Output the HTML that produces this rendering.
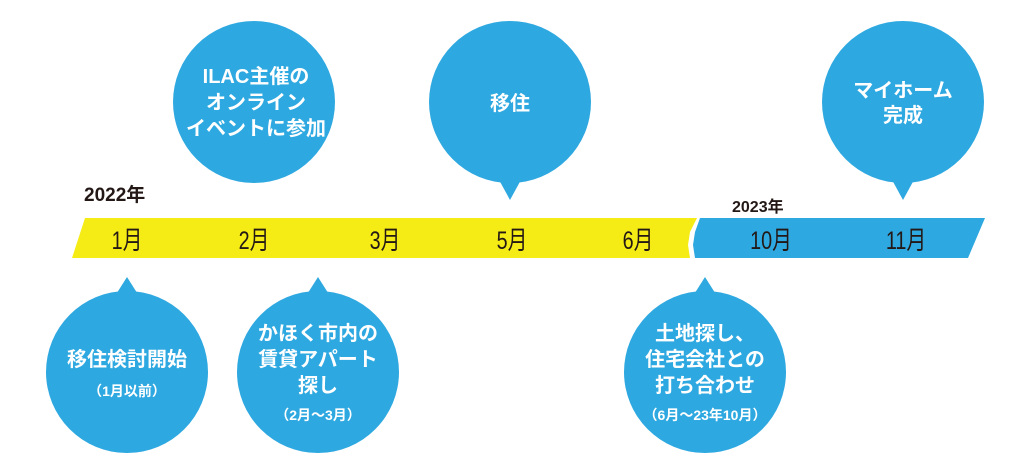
<!DOCTYPE html>
<html><head><meta charset="utf-8"><style>
body{margin:0;width:1024px;height:467px;background:#fff;overflow:hidden;font-family:"Liberation Sans","Noto Sans CJK JP",sans-serif}
</style></head><body>
<svg width="1024" height="467" viewBox="0 0 1024 467" xmlns="http://www.w3.org/2000/svg" font-family="Liberation Sans, Noto Sans CJK JP, sans-serif">
<g fill="#2ea8e0">
<circle cx="254" cy="102" r="81"/>
<circle cx="510" cy="102" r="81"/><polygon points="498,178 522,178 510,200"/>
<circle cx="903" cy="102" r="81"/><polygon points="891,178 915,178 903,200"/>
<circle cx="127" cy="372" r="81"/><polygon points="115,296 139,296 127,277"/>
<circle cx="318" cy="372" r="81"/><polygon points="306,296 330,296 318,277"/>
<circle cx="705" cy="372" r="81"/><polygon points="693,296 717,296 705,277"/>
</g>
<polygon points="85,218 697,218 690,232 688,245 690,258 72,258" fill="#f5ec16"/>
<polygon points="700,218 985,218 968,258 695,258 693,245 695,232" fill="#2ea8e0"/>
<g fill="#231815" font-size="22" text-anchor="middle">
<text transform="translate(127,249) scale(0.9,1.15)">1月</text>
<text transform="translate(254,249) scale(0.9,1.15)">2月</text>
<text transform="translate(385,249) scale(0.9,1.15)">3月</text>
<text transform="translate(512,249) scale(0.9,1.15)">5月</text>
<text transform="translate(638,249) scale(0.9,1.15)">6月</text>
<text transform="translate(771,249) scale(0.9,1.15)">10月</text>
<text transform="translate(906,249) scale(0.9,1.15)">11月</text>
</g>
<g fill="#231815" font-weight="bold">
<text x="84" y="201" font-size="19">2022年</text>
<text x="732" y="212" font-size="16">2023年</text>
</g>
<g fill="#fff" font-weight="bold" font-size="20" text-anchor="middle">
<text x="256" y="83">ILAC主催の</text><text x="256" y="109">オンライン</text><text x="256" y="135">イベントに参加</text>
<text x="510" y="110">移住</text>
<text x="903" y="97">マイホーム</text><text x="903" y="122">完成</text>
<text x="127" y="366">移住検討開始</text>
<text x="127" y="396" font-size="14">（1月以前）</text>
<text x="318" y="340">かほく市内の</text><text x="318" y="366">賃貸アパート</text><text x="318" y="392">探し</text>
<text x="318" y="420" font-size="14">（2月～3月）</text>
<text x="705" y="340">土地探し、</text><text x="705" y="366">住宅会社との</text><text x="705" y="392">打ち合わせ</text>
<text x="705" y="420" font-size="14">（6月～23年10月）</text>
</g>
</svg>
</body></html>
